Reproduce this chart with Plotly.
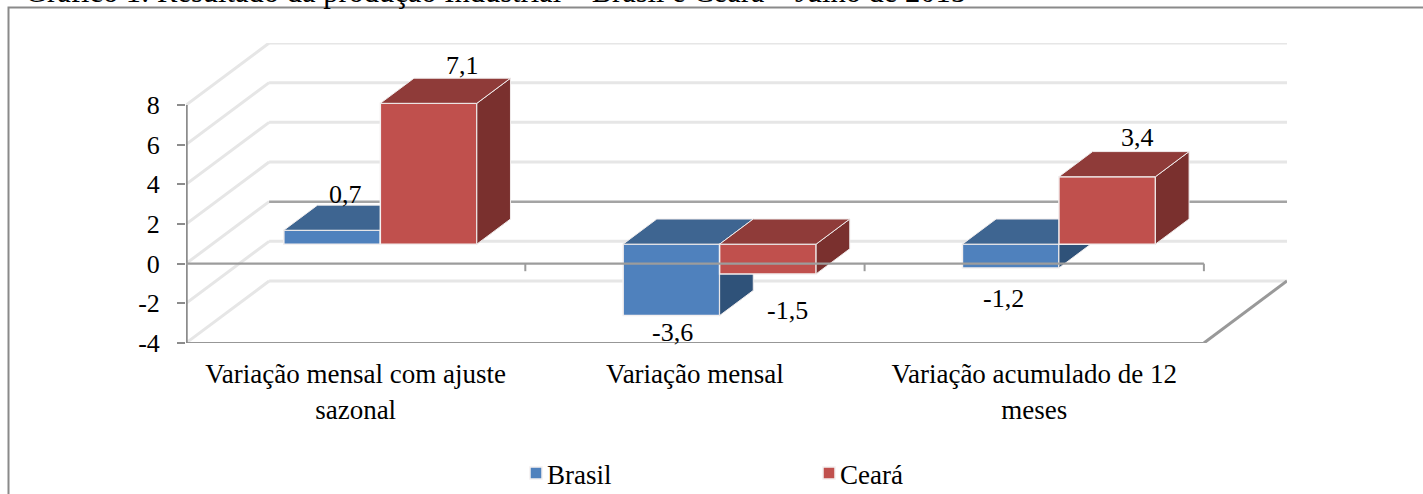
import plotly.graph_objects as go

# ---- data -------------------------------------------------------------
categories = ["Variação mensal com ajuste<br>sazonal", "Variação mensal", "Variação acumulado de 12<br>meses"]
brasil = [0.7, -3.6, -1.2]
ceara = [7.1, -1.5, 3.4]
y_ticks = [-4, -2, 0, 2, 4, 6, 8]
title_text = "Gráfico 1: Resultado da produção Industrial – Brasil e Ceará – Julho de 2015"

# ---- page geometry (pixels) -------------------------------------------
W, H = 1423, 494
L, R, T, B = 186, 1287, 43, 343
PX_X = 339.3                 # px per category
PX_Y = 238 / 12              # px per value unit
DX = (R - L - 3 * PX_X) / PX_X
DY = (B - T) / PX_Y - 12
Z0, Z1 = 0.315, 0.72
BW = 96.5 / PX_X
SHIFT = -1.5 / PX_X
FONT = "Liberation Serif"
FS = 27
GRID, AXIS = "#E6E6E6", "#8C8C8C"

def depth(x, v, z):
    return x + z * DX, v + z * DY

def polygons(items):
    xs, ys = [], []
    for pts in items:
        for p in pts + [pts[0]]:
            xs.append(p[0]); ys.append(p[1])
        xs.append(None); ys.append(None)
    return xs, ys

def segments(items):
    xs, ys = [], []
    for a, b in items:
        xs += [a[0], b[0], None]; ys += [a[1], b[1], None]
    return xs, ys

fig = go.Figure()

def line_trace(items, color, width, ax=("x", "y")):
    xs, ys = segments(items)
    fig.add_trace(go.Scatter(x=xs, y=ys, mode="lines", line=dict(color=color, width=width),
                             showlegend=False, hoverinfo="skip", cliponaxis=False,
                             xaxis=ax[0], yaxis=ax[1]))

# walls: back and side gridlines
light_back = [t for t in y_ticks if t != 0]
line_trace([(depth(0, t, 1), depth(3, t, 1)) for t in light_back], GRID, 3)
line_trace([(depth(0, t, 0), depth(0, t, 1)) for t in y_ticks], GRID, 3)
line_trace([(depth(0, 0, 1), depth(3, 0, 1))], "#A4A4A4", 2.5)
# floor and value axis
line_trace([((0, y_ticks[0]), (3, y_ticks[0]))], "#979797", 2)
line_trace([(depth(3, y_ticks[0], 0), depth(3, y_ticks[0], 1))], "#999999", 3)
line_trace([((0, y_ticks[0]), (0, y_ticks[-1]))], AXIS, 3.5)

def series(values, name, offset, front, top, side, xa, ya):
    xc = [i + 0.5 + SHIFT + offset * BW + Z0 * DX for i in range(3)]
    fig.add_trace(go.Bar(x=xc, y=values, base=[Z0 * DY] * 3, width=BW, name=name,
                         marker=dict(color=front, line=dict(color="#F4F0F0", width=1.5)),
                         xaxis=xa, yaxis=ya, hoverinfo="skip"))
    tops, sides = [], []
    for c, v in zip(xc, values):
        x0, x1 = c - BW / 2 - Z0 * DX, c + BW / 2 - Z0 * DX
        hi, lo = max(v, 0), min(v, 0)
        tops.append([depth(x0, hi, Z0), depth(x1, hi, Z0), depth(x1, hi, Z1), depth(x0, hi, Z1)])
        sides.append([depth(x1, lo, Z0), depth(x1, hi, Z0), depth(x1, hi, Z1), depth(x1, lo, Z1)])
    for polys, col in ((sides, side), (tops, top)):
        xs, ys = polygons(polys)
        fig.add_trace(go.Scatter(x=xs, y=ys, mode="lines", fill="toself", fillcolor=col,
                                 line=dict(color="#F0ECEC", width=1), showlegend=False,
                                 hoverinfo="skip", xaxis=xa, yaxis=ya, cliponaxis=False))
    return xc

xc_b = series(brasil, "Brasil", -0.5, "#4F81BD", "#3E6591", "#2F5279", "x2", "y2")
xc_c = series(ceara, "Ceará", 0.5, "#C0504D", "#8F3B39", "#7A302E", "x3", "y3")

# zero plane edge in front of the bars, with its tick marks
line_trace([((0, 0), (3, 0))], "#9C9C9C", 2.2, ("x4", "y4"))
line_trace([((i, 0), (i, -0.38)) for i in (1, 2, 3)], "#9C9C9C", 2, ("x4", "y4"))

# data labels, anchored on the bars (offsets in px)
label_shift = {("b", 0): (13.5, 36), ("b", 1): (1.5, -17), ("b", 2): (-7.5, -31),
               ("c", 0): (34, 38), ("c", 1): (20, -37), ("c", 2): (30, 39)}
annotations = []
for key, xc, vals in (("b", xc_b, brasil), ("c", xc_c, ceara)):
    for i, v in enumerate(vals):
        sx, sy = label_shift[(key, i)]
        annotations.append(dict(x=xc[i], y=v + Z0 * DY, xref="x4", yref="y4", text=str(v).replace(".", ","),
                                showarrow=False, xshift=sx, yshift=sy, xanchor="center", yanchor="middle",
                                font=dict(family=FONT, size=26, color="black")))

def px(x):  return (x - L) / (R - L)
def py(y):  return (B - y) / (B - T)

annotations.append(dict(x=px(23), y=py(-8), xref="paper", yref="paper", text=title_text, showarrow=False,
                        xanchor="left", yanchor="middle", font=dict(family=FONT, size=30.5, color="black")))

rng_x, rng_y = [0, 3 + DX], [y_ticks[0], y_ticks[-1] + DY]
hidden_x = dict(range=rng_x, overlaying="x", visible=False)
hidden_y = dict(range=rng_y, overlaying="y", visible=False)

fig.update_layout(
    width=W, height=H, margin=dict(l=L, r=W - R, t=T, b=H - B, autoexpand=False),
    paper_bgcolor="white", plot_bgcolor="white", barmode="overlay",
    font=dict(family=FONT, size=FS, color="black"),
    xaxis=dict(range=rng_x, showgrid=False, zeroline=False, showline=False,
               tickmode="array", tickvals=[0.5, 1.5, 2.5], ticktext=categories,
               ticks="outside", ticklen=7, tickcolor="rgba(0,0,0,0)", tickangle=0,
               tickfont=dict(family=FONT, size=FS, color="black")),
    yaxis=dict(range=rng_y, showgrid=False, zeroline=False, showline=False,
               tickmode="array", tickvals=y_ticks, ticktext=[str(t) for t in y_ticks],
               ticks="outside", ticklen=8, tickwidth=2, tickcolor=AXIS, ticklabelstandoff=12,
               tickfont=dict(family=FONT, size=26, color="black")),
    xaxis2=hidden_x, yaxis2=hidden_y, xaxis3=hidden_x, yaxis3=hidden_y,
    xaxis4=hidden_x, yaxis4=hidden_y,
    legend=dict(orientation="h", x=px(516), y=py(449), xanchor="left", yanchor="top",
                entrywidth=248, entrywidthmode="pixels", bgcolor="rgba(0,0,0,0)",
                font=dict(family=FONT, size=FS, color="black")),
    annotations=annotations,
    shapes=[dict(type="rect", xref="paper", yref="paper", x0=px(8.5), x1=px(1500), y0=py(7.5), y1=py(560),
                 line=dict(color="#8A8A8A", width=2), fillcolor="rgba(0,0,0,0)", layer="below")],
)

fig.write_html(
    "out.html",
    config=dict(displayModeBar=False),
    post_script=("document.body.style.margin='0';document.body.style.overflow='hidden';"
                 "document.querySelectorAll('.legendtext').forEach(function(t){"
                 "t.setAttribute('x', parseFloat(t.getAttribute('x'))-9);});"),
)
